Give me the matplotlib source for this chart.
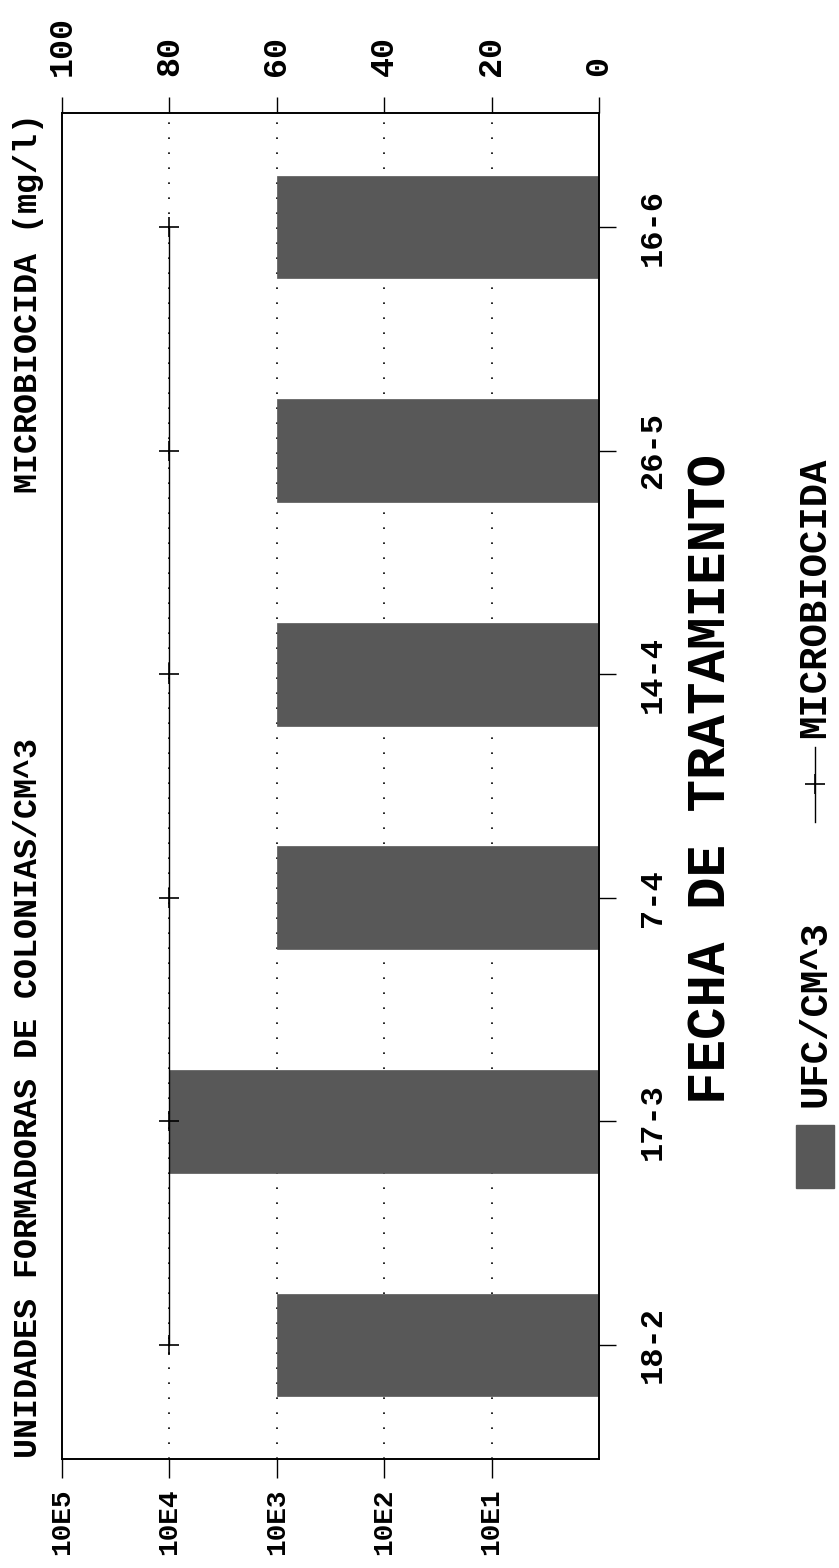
import matplotlib
matplotlib.use("Agg")
import matplotlib.pyplot as plt
from matplotlib.patches import Rectangle
from matplotlib.lines import Line2D
import numpy as np

# ---- data ----
categories = ["18-2", "17-3", "7-4", "14-4", "26-5", "16-6"]
ufc_values = [1e3, 1e4, 1e3, 1e3, 1e3, 1e3]          # UFC/CM^3 (log scale)
microbiocida = [80, 80, 80, 80, 80, 80]               # mg/l
log_ticks = [1e5, 1e4, 1e3, 1e2, 1e1]
log_ticklabels = ["10E5", "10E4", "10E3", "10E2", "10E1"]
mg_ticks = [100, 80, 60, 40, 20, 0]
mg_ticklabels = ["100", "80", "60", "40", "20", "0"]

W, H = 839, 1568
plt.rcParams['font.family'] = ['Liberation Mono', 'DejaVu Sans Mono']
plt.rcParams['font.weight'] = 'bold'

def fx(px):
    return px / W

def fy(py):
    return 1 - py / H

fig = plt.figure(figsize=(W / 100, H / 100), dpi=100)
fig.patch.set_facecolor("white")

L, R, T, B = 62, 599, 113, 1459
ax = fig.add_axes([fx(L), fy(B), fx(R) - fx(L), fy(T) - fy(B)])

ypos = np.arange(len(categories))
bar_color = "#585858"
ax.set_xscale("log")
ax.barh(ypos, np.array(ufc_values) - 1, left=1, height=0.46,
        color=bar_color, edgecolor=bar_color, linewidth=0.5, zorder=2)
ax.set_xlim(1e5, 1)
ax.set_ylim(-0.51, len(categories) - 0.49)

for t in log_ticks[1:]:
    ax.axvline(t, color="black", lw=1.2, linestyle=(0, (1, 8)), zorder=1)

ax.set_xticks(log_ticks)
ax.set_xticklabels(log_ticklabels, rotation=90, fontsize=20)
ax.xaxis.set_minor_locator(matplotlib.ticker.NullLocator())
ax.tick_params(axis="x", direction="out", length=14, width=1.0, pad=7)

ax.yaxis.tick_right()
ax.set_yticks(ypos)
ax.set_yticklabels(categories, rotation=90, fontsize=23, va="center")
ax.tick_params(axis="y", direction="out", length=12, width=1.0, pad=16,
               right=True, left=False)

for s in ax.spines.values():
    s.set_linewidth(1.2)
    s.set_color("black")

ax2 = ax.twiny()
ax2.set_xlim(100, 0)
ax2.plot(microbiocida, ypos, color="black", lw=1.0, marker="+",
         markersize=14, markeredgewidth=1.2, zorder=3)
ax2.set_xticks(mg_ticks)
ax2.set_xticklabels(mg_ticklabels, rotation=90, fontsize=24)
ax2.tick_params(axis="x", direction="out", length=11.5, width=1.0, pad=15)
for s in ax2.spines.values():
    s.set_linewidth(1.2)

# axis titles
fig.text(fx(29), fy(1458), "UNIDADES FORMADORAS DE COLONIAS/CM^3",
         rotation=90, ha="center", va="bottom", fontsize=24)
fig.text(fx(29), fy(113), "MICROBIOCIDA (mg/l)",
         rotation=90, ha="center", va="top", fontsize=24)
fig.text(fx(711), fy(779), "FECHA DE TRATAMIENTO",
         rotation=90, ha="center", va="center", fontsize=39)

# legend (drawn rotated)
fig.patches.append(Rectangle((fx(796), fy(1188)), fx(834) - fx(796),
                             fy(1125) - fy(1188), transform=fig.transFigure,
                             facecolor=bar_color, edgecolor=bar_color))
fig.text(fx(815), fy(1107), "UFC/CM^3", rotation=90, ha="center",
         va="bottom", fontsize=28)
fig.lines.append(Line2D([fx(815), fx(815)], [fy(822), fy(747)],
                        transform=fig.transFigure, color="black", lw=1.0))
fig.lines.append(Line2D([fx(815)], [fy(784)], transform=fig.transFigure,
                        color="black", marker="+", markersize=14,
                        markeredgewidth=1.2, linestyle="none"))
fig.text(fx(815), fy(738), "MICROBIOCIDA", rotation=90, ha="center",
         va="bottom", fontsize=28)

fig.savefig("out.png", dpi=100, facecolor="white")
